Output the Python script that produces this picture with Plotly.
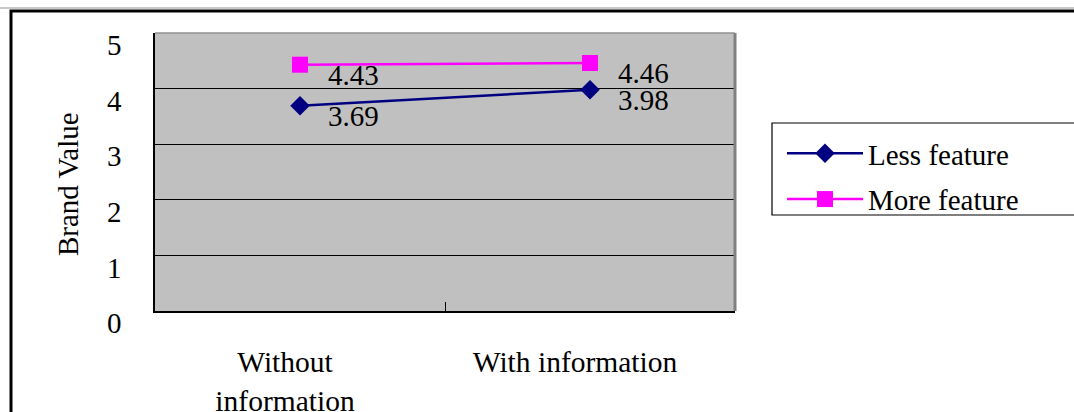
import plotly.graph_objects as go

categories = ["Without<br>information", "With information"]
less_feature = [3.69, 3.98]
more_feature = [4.43, 4.46]
y_ticks = [0, 1, 2, 3, 4, 5]
series_names = ["Less feature", "More feature"]
y_title = "Brand Value"

FONT = "Liberation Serif, Times New Roman, serif"
FS = 29
W, H = 1074, 412
PX0, PX1, PY0, PY1 = 155, 735, 33, 311  # plot area in pixels
L, T = PX0, PY0
R, B = W - PX1, H - PY1
pw, ph = PX1 - PX0, PY1 - PY0

def px_x(p):
    return (p - PX0) / pw

def px_y(p):
    return (PY1 - p) / ph

fig = go.Figure()
fig.add_trace(go.Scatter(
    x=categories, y=less_feature, name=series_names[0], mode="lines+markers",
    legendgroup="a",
    line=dict(color="#000080", width=2.5),
    marker=dict(symbol="diamond", size=15, color="#000080"),
))
fig.add_trace(go.Scatter(
    x=categories, y=more_feature, name=series_names[1], mode="lines+markers",
    legendgroup="b",
    line=dict(color="#FF00FF", width=2.5),
    marker=dict(symbol="square", size=16, color="#FF00FF"),
))

for vals in (less_feature, more_feature):
    for c, v in zip(categories, vals):
        fig.add_annotation(x=c, y=v, xref="x", yref="y", text=f"{v:.2f}",
                           showarrow=False, xanchor="left", yanchor="middle",
                           xshift=26, yshift=-10,
                           font=dict(family=FONT, size=FS, color="black"))

# y-axis title
fig.add_annotation(x=px_x(68), y=px_y(184), xref="paper", yref="paper", text=y_title,
                   textangle=-90, showarrow=False, xanchor="center", yanchor="middle",
                   font=dict(family=FONT, size=FS, color="black"))

# outer frame (cut off at right and bottom)
fig.add_shape(type="line", xref="paper", yref="paper",
              x0=px_x(0), x1=px_x(1100), y0=px_y(8), y1=px_y(8),
              line=dict(color="#c8c8c8", width=2))
fig.add_shape(type="rect", xref="paper", yref="paper",
              x0=px_x(11), x1=px_x(1100), y0=px_y(11), y1=px_y(440),
              line=dict(color="black", width=3))
# legend box (extends past right edge)
fig.add_shape(type="rect", xref="paper", yref="paper",
              x0=px_x(772), x1=px_x(1100), y0=px_y(123), y1=px_y(215),
              line=dict(color="black", width=1.2), fillcolor="white", layer="below")
# plot-area right/top border
fig.add_shape(type="line", xref="paper", yref="paper", x0=1, x1=1, y0=0, y1=1,
              line=dict(color="#808080", width=3), layer="above")
fig.add_shape(type="line", xref="paper", yref="paper", x0=0, x1=1, y0=1, y1=1,
              line=dict(color="#909090", width=1.5), layer="above")

fig.update_layout(
    width=W, height=H,
    margin=dict(l=L, r=R, t=T, b=B, pad=0, autoexpand=False),
    paper_bgcolor="white", plot_bgcolor="#C0C0C0",
    font=dict(family=FONT, size=FS, color="black"),
    showlegend=True,
    legend=dict(
        x=px_x(782), y=px_y(128), xanchor="left", yanchor="top",
        bgcolor="rgba(0,0,0,0)", borderwidth=0,
        font=dict(family=FONT, size=FS, color="black"),
        itemwidth=76, tracegroupgap=5,
    ),
    xaxis=dict(
        type="category", showgrid=False, showline=True, linecolor="black", linewidth=1.5,
        ticks="inside", tickson="boundaries", ticklen=9, tickcolor="black",
        ticklabelstandoff=24, ticklabelshift=-15, automargin=False,
        tickfont=dict(family=FONT, size=29.5, color="black"),
        range=[-0.5, 1.5], zeroline=False,
    ),
    yaxis=dict(
        range=[0, 5], tickvals=y_ticks, ticktext=[str(t) for t in y_ticks],
        showgrid=True, gridcolor="black", gridwidth=1,
        showline=True, linecolor="black", linewidth=1.5,
        ticks="inside", ticklen=8, tickcolor="black",
        ticklabelstandoff=26, ticklabelshift=12, automargin=False,
        tickfont=dict(family=FONT, size=FS, color="black"),
        zeroline=False,
    ),
)

fig.write_html(
    "out.html",
    config={"displayModeBar": False},
    post_script="document.body.style.margin='0px';document.body.style.overflow='hidden';",
)
